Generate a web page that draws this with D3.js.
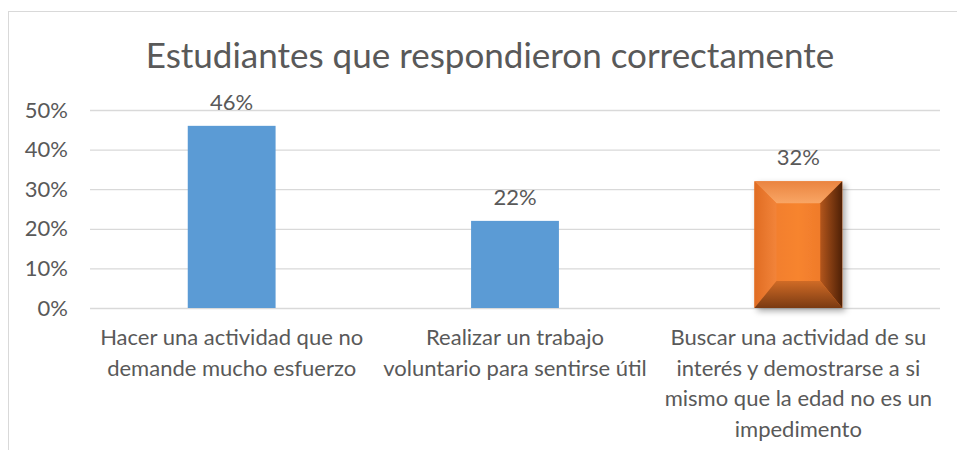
<!DOCTYPE html>
<html>
<head>
<meta charset="utf-8">
<script src="https://cdn.jsdelivr.net/npm/d3@7"></script>
<style>
  body { margin: 0; background: #fff; }
  text { font-family: Lato, "Open Sans", sans-serif; fill: #595959; }
</style>
</head>
<body>
<div id="chart"></div>
<script>
// datos del gráfico
const title = "Estudiantes que respondieron correctamente";
const categories = [
    "Hacer una actividad que no\ndemande mucho esfuerzo",
    "Realizar un trabajo\nvoluntario para sentirse útil",
    "Buscar una actividad de su\ninterés y demostrarse a si\nmismo que la edad no es un\nimpedimento"
];
const values = [0.46, 0.22, 0.32];
const yTicks = [0, 0.1, 0.2, 0.3, 0.4, 0.5];

const width = 957, height = 450;
const margin = { top: 110, right: 17, bottom: 142, left: 90 };

const svg = d3.select("#chart").append("svg")
    .attr("width", width)
    .attr("height", height);

// cadre
svg.append("rect")
    .attr("x", 8.5).attr("y", 11.5)
    .attr("width", 960).attr("height", 460)
    .attr("fill", "none")
    .attr("stroke", "#d9d9d9");

const x = d3.scaleBand()
    .domain(categories)
    .range([margin.left, width - margin.right])
    .paddingInner(0.69)
    .paddingOuter(0.345);

const y = d3.scaleLinear()
    .domain([0, 0.5])
    .range([height - margin.bottom, margin.top]);

// titre
svg.append("text")
    .attr("x", 490)
    .attr("y", 68)
    .attr("text-anchor", "middle")
    .attr("font-size", 35)
    .text(title);

// grille + axe y
const yAxis = svg.append("g")
    .attr("transform", `translate(${margin.left},0)`)
    .call(d3.axisLeft(y).tickValues(yTicks).tickFormat(d3.format(".0%"))
        .tickSize(-(width - margin.left - margin.right)).tickPadding(22));
yAxis.select(".domain").remove();
yAxis.selectAll("line").attr("stroke", "#d9d9d9").attr("stroke-width", 1.3);
yAxis.selectAll("text").attr("font-size", 22).attr("fill", "#595959")
    .attr("font-family", "Lato, sans-serif");

// axe x (étiquettes multi-lignes)
const xAxis = svg.append("g")
    .attr("transform", `translate(0,${height - margin.bottom})`)
    .call(d3.axisBottom(x).tickSize(0).tickFormat(""));
xAxis.select(".domain").remove();
xAxis.selectAll(".tick").each(function (d) {
    const t = d3.select(this).append("text")
        .attr("text-anchor", "middle")
        .attr("font-size", 22)
        .attr("fill", "#595959")
        .attr("font-family", "Lato, sans-serif");
    d.split("\n").forEach((line, i) => {
        t.append("tspan").attr("x", 0).attr("y", 37 + i * 30.7).text(line);
    });
});

// barres bleues
const data = categories.map((c, i) => ({ cat: c, val: values[i], i: i }));
svg.selectAll(".bar")
    .data(data.filter(d => d.i < 2))
    .join("rect")
    .attr("class", "bar")
    .attr("x", d => x(d.cat))
    .attr("y", d => y(d.val))
    .attr("width", x.bandwidth())
    .attr("height", d => y(0) - y(d.val))
    .attr("fill", "#5b9bd5");

// barre orange biseautée
const defs = svg.append("defs");
const filt = defs.append("filter").attr("id", "shadow")
    .attr("x", "-20%").attr("y", "-20%").attr("width", "150%").attr("height", "150%");
filt.append("feDropShadow").attr("dx", 3).attr("dy", 3).attr("stdDeviation", 3)
    .attr("flood-color", "#000").attr("flood-opacity", 0.35);

function grad(id, x1, y1, x2, y2, stops) {
    const g = defs.append("linearGradient").attr("id", id)
        .attr("x1", x1).attr("y1", y1).attr("x2", x2).attr("y2", y2);
    stops.forEach(s => g.append("stop").attr("offset", s[0]).attr("stop-color", s[1]));
}
grad("gFace", 0, 0, 1, 0, [[0, "#ee7a2c"], [0.5, "#f7842f"], [1, "#e87226"]]);
grad("gTop", 0, 0, 0, 1, [[0, "#ea8440"], [1, "#f9a665"]]);
grad("gLeft", 0, 0, 1, 0, [[0, "#e06c22"], [1, "#f2843a"]]);
grad("gRight", 0, 0, 1, 0, [[0, "#b3561c"], [1, "#4e2006"]]);
grad("gBottom", 0, 0, 0, 1, [[0, "#d06b26"], [1, "#7a3a12"]]);

const ob = data[2];
const bx = x(ob.cat), bw = x.bandwidth(), by = y(ob.val), bh = y(0) - y(ob.val);
const bv = 22, bvb = 27;
const g3 = svg.append("g");
g3.append("rect")
    .attr("x", bx).attr("y", by).attr("width", bw).attr("height", bh)
    .attr("fill", "url(#gFace)").attr("filter", "url(#shadow)");
const pts = {
    top: [[bx, by], [bx + bw, by], [bx + bw - bv, by + bv], [bx + bv, by + bv]],
    left: [[bx, by], [bx + bv, by + bv], [bx + bv, by + bh - bvb], [bx, by + bh]],
    right: [[bx + bw, by], [bx + bw, by + bh], [bx + bw - bv, by + bh - bvb], [bx + bw - bv, by + bv]],
    bottom: [[bx, by + bh], [bx + bv, by + bh - bvb], [bx + bw - bv, by + bh - bvb], [bx + bw, by + bh]]
};
const fills = { top: "url(#gTop)", left: "url(#gLeft)", right: "url(#gRight)", bottom: "url(#gBottom)" };
Object.keys(pts).forEach(k => {
    g3.append("path")
        .attr("d", d3.line()(pts[k]) + "Z")
        .attr("fill", fills[k]);
});

// étiquettes de valeurs
svg.selectAll(".lbl")
    .data(data)
    .join("text")
    .attr("class", "lbl")
    .attr("x", d => x(d.cat) + x.bandwidth() / 2)
    .attr("y", d => y(d.val) - 16)
    .attr("text-anchor", "middle")
    .attr("font-size", 22)
    .text(d => d3.format(".0%")(d.val));
</script>
</body>
</html>
